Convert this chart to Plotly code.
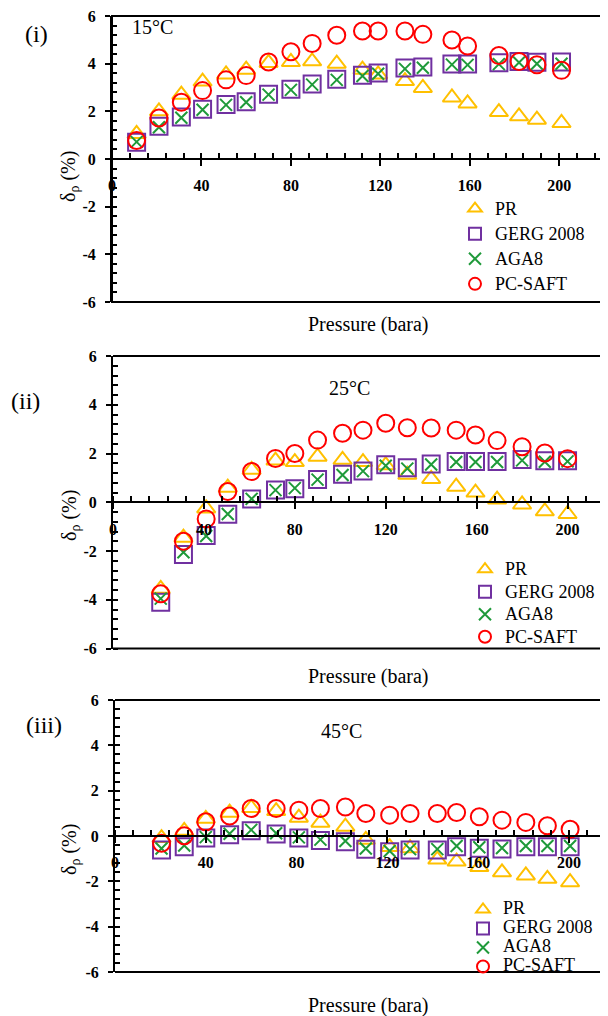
import plotly.graph_objects as go

# ---------------- data ----------------
series_names = ["PR", "GERG 2008", "AGA8", "PC-SAFT"]
x_tick_vals = [0, 40, 80, 120, 160, 200]
x_tick_text = ["0", "40", "80", "120", "160", "200"]
y_tick_vals = [-6, -4, -2, 0, 2, 4, 6]
y_tick_text = ["-6", "-4", "-2", "0", "2", "4", "6"]
panel_labels = ["(i)", "(ii)", "(iii)"]
temp_labels = ["15°C", "25°C", "45°C"]

# 15 °C
p15 = [11, 21, 31, 40.5, 51, 60, 70, 80, 89.5, 100.5, 112, 119, 131, 139, 152, 159, 173, 182, 190, 201]
pr15 = [1.05, 2.0, 2.7, 3.25, 3.55, 3.75, 4.03, 4.07, 4.1, 4.0, 3.75, 3.55, 3.27, 2.98, 2.58, 2.33, 1.97, 1.79, 1.65, 1.51]
gerg15 = [0.7, 1.37, 1.76, 2.09, 2.29, 2.4, 2.72, 2.93, 3.15, 3.35, 3.51, 3.61, 3.82, 3.86, 3.99, 3.99, 4.04, 4.09, 4.06, 4.07]
aga15 = [0.72, 1.33, 1.73, 2.07, 2.27, 2.38, 2.7, 2.9, 3.12, 3.32, 3.48, 3.58, 3.78, 3.83, 3.96, 3.95, 3.98, 4.05, 4.0, 4.0]
pcs15 = [0.78, 1.72, 2.38, 2.87, 3.32, 3.5, 4.07, 4.5, 4.85, 5.19, 5.37, 5.37, 5.37, 5.23, 4.99, 4.74, 4.34, 4.09, 3.95, 3.72]

# 25 °C
p25 = [21, 31, 41, 50.5, 61, 71.5, 80, 90, 101, 110, 120, 129.5, 140, 151, 159.5, 169, 180, 190, 200]
pr25 = [-3.55, -1.45, -0.25, 0.6, 1.33, 1.71, 1.65, 1.87, 1.74, 1.65, 1.52, 1.13, 0.96, 0.64, 0.4, 0.11, -0.09, -0.37, -0.48]
gerg25 = [-4.1, -2.14, -1.36, -0.49, 0.14, 0.5, 0.56, 0.93, 1.15, 1.28, 1.54, 1.42, 1.57, 1.67, 1.67, 1.67, 1.76, 1.7, 1.7]
aga25 = [-3.95, -2.05, -1.38, -0.48, 0.14, 0.5, 0.58, 0.93, 1.12, 1.28, 1.5, 1.38, 1.55, 1.65, 1.65, 1.65, 1.72, 1.66, 1.68]
pcs25 = [-3.75, -1.6, -0.68, 0.44, 1.26, 1.8, 2.0, 2.55, 2.83, 2.96, 3.24, 3.06, 3.05, 2.96, 2.76, 2.53, 2.28, 2.02, 1.79]

# 45 °C
p45 = [20.5, 30.5, 40, 50.5, 60, 71, 81, 90.5, 101.5, 110.5, 121, 130, 142, 150.5, 160.5, 170.5, 181, 190.5, 200.5]
pr45 = [-0.09, 0.23, 0.76, 1.03, 1.24, 1.1, 0.81, 0.59, 0.41, -0.17, -0.49, -0.54, -1.04, -1.13, -1.37, -1.6, -1.74, -1.89, -2.04]
gerg45 = [-0.62, -0.47, -0.09, 0.06, 0.23, 0.09, -0.09, -0.2, -0.25, -0.58, -0.7, -0.62, -0.62, -0.47, -0.54, -0.57, -0.47, -0.47, -0.47]
aga45 = [-0.55, -0.42, -0.05, 0.1, 0.27, 0.12, -0.06, -0.16, -0.22, -0.55, -0.66, -0.58, -0.58, -0.44, -0.5, -0.53, -0.44, -0.44, -0.44]
pcs45 = [-0.32, 0.01, 0.63, 0.88, 1.21, 1.21, 1.14, 1.21, 1.28, 0.99, 0.92, 0.99, 0.99, 1.04, 0.85, 0.7, 0.6, 0.45, 0.3]

# ---------------- styling ----------------
# the page body adds an 8 px margin, so the figure is 8 px smaller and
# every screen-pixel position below is shifted by OFF
OFF = 8
W, H = 608 - OFF, 1016 - OFF
SERIF = "Liberation Serif"
GOLD, PURPLE, GREEN, RED = "#FFC000", "#7030A0", "#1F9A3A", "#FF0000"


def fx(px):
    return (px - OFF) / W


def fy(py):
    return 1 - (py - OFF) / H


styles = [
    dict(symbol="triangle-up-open", size=16, color=GOLD),
    dict(symbol="square-open", size=17, color=PURPLE),
    dict(symbol="x-thin-open", size=12, color=GREEN),
    dict(symbol="circle-open", size=17, color=RED),
]

# screen-pixel boxes of the three plot areas: left, right, top, bottom, and x max
boxes = [
    (112, 604, 16, 302, 220.0),
    (113, 608, 356, 648.6, 217.8),
    (115, 608, 700, 972, 217.2),
]
temp_pos = [(18, 5.55), (104, 4.7), (100, 4.65)]
label_px = [(36, 34), (25, 401), (44, 725)]
xtitle_py = [324, 676, 1005]
ytitle_py = [177, 516, 850]
legend_px = [(455, 191, 17), (465, 553, 15), (463, 895, 12)]

data_sets = [
    (p15, [pr15, gerg15, aga15, pcs15]),
    (p25, [pr25, gerg25, aga25, pcs25]),
    (p45, [pr45, gerg45, aga45, pcs45]),
]

fig = go.Figure()
annotations = []
shapes = []

for i, ((px, series), box) in enumerate(zip(data_sets, boxes)):
    k = "" if i == 0 else str(i + 1)
    xa, ya = "x" + k, "y" + k
    lg = "legend" + k
    for name, ys, st in zip(series_names, series, styles):
        fig.add_trace(go.Scatter(
            x=px, y=ys, mode="markers", name='<span style="font-size:18px">%s</span>' % name,
            xaxis=xa, yaxis=ya, legend=lg,
            marker=dict(symbol=st["symbol"], size=st["size"], color=st["color"],
                        line=dict(width=2, color=st["color"])),
        ))
    l, r, t, b, xmax = box
    xdom = [fx(l), min(fx(r), 1.0)]
    ydom = [fy(b), fy(t)]
    ymid = (ydom[0] + ydom[1]) / 2
    fig.layout["xaxis" + k] = dict(
        domain=xdom, range=[0, xmax], anchor="free", position=ymid, automargin=False,
        showline=True, linewidth=2, linecolor="black", showgrid=False, zeroline=False,
        tickmode="array", tickvals=x_tick_vals, ticktext=x_tick_text,
        ticks="outside", ticklen=6, tickwidth=1.5, tickcolor="black",
        tickfont=dict(family=SERIF, size=16, color="black", weight="bold"),
        ticklabelstandoff=6, ticklabeloverflow="allow",
        minor=dict(tickmode="linear", tick0=0, dtick=8, ticks="inside", ticklen=5,
                   tickwidth=1.5, tickcolor="black", showgrid=False),
    )
    fig.layout["yaxis" + k] = dict(
        domain=ydom, range=[-6, 6], anchor=xa, automargin=False,
        showline=True, linewidth=2, linecolor="black", showgrid=False, zeroline=False,
        tickmode="array", tickvals=y_tick_vals, ticktext=y_tick_text,
        ticks="outside", ticklen=5, tickwidth=1.5, tickcolor="black",
        tickfont=dict(family=SERIF, size=16, color="black", weight="bold"),
        ticklabelstandoff=6, ticklabeloverflow="allow",
        minor=dict(tickmode="linear", tick0=0, dtick=0.4, ticks="inside", ticklen=5,
                   tickwidth=1.5, tickcolor="black", showgrid=False),
    )
    # frame lines
    if i == 0:
        shapes.append(dict(type="rect", xref=xa + " domain", yref=ya + " domain",
                           x0=0, x1=1, y0=0, y1=1, line=dict(color="black", width=2)))
    else:
        for yy in (0, 1):
            shapes.append(dict(type="line", xref=xa + " domain", yref=ya + " domain",
                               x0=0, x1=1, y0=yy, y1=yy, line=dict(color="black", width=2)))
    # texts
    tx, ty = temp_pos[i]
    annotations.append(dict(text=temp_labels[i], x=tx, y=ty, xref=xa, yref=ya,
                            xanchor="center", yanchor="middle",
                            showarrow=False, font=dict(family=SERIF, size=20, color="black")))
    lx, ly = label_px[i]
    annotations.append(dict(text=panel_labels[i], x=fx(lx), y=fy(ly), xref="paper", yref="paper",
                            xanchor="center", yanchor="middle",
                            showarrow=False, font=dict(family=SERIF, size=24, color="black")))
    annotations.append(dict(text="Pressure (bara)", x=fx(368), y=fy(xtitle_py[i]),
                            xref="paper", yref="paper", showarrow=False,
                            xanchor="center", yanchor="middle",
                            font=dict(family=SERIF, size=20, color="black")))
    annotations.append(dict(text="δ<sub>ρ</sub> (%)", x=fx(70), y=fy(ytitle_py[i]),
                            xref="paper", yref="paper", showarrow=False, textangle=-90,
                            xanchor="center", yanchor="middle",
                            font=dict(family=SERIF, size=20, color="black")))
    gx, gy, gs = legend_px[i]
    fig.layout[lg] = dict(x=fx(gx), y=fy(gy), xanchor="left", yanchor="top",
                          bgcolor="rgba(0,0,0,0)", borderwidth=0, itemsizing="constant",
                          font=dict(family=SERIF, size=gs, color="black"), tracegroupgap=0)

fig.update_layout(width=W, height=H,
                  margin=dict(l=0, r=0, t=0, b=0, pad=0, autoexpand=False),
                  paper_bgcolor="white", plot_bgcolor="white",
                  showlegend=True, annotations=annotations, shapes=shapes)

fig.write_html("out.html")
